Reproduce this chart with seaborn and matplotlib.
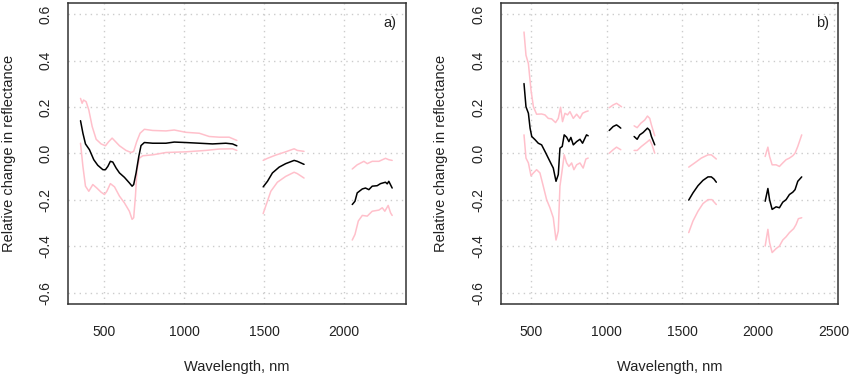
import numpy as np
import pandas as pd
import matplotlib
matplotlib.use("Agg")
import matplotlib.pyplot as plt
import seaborn as sns

#%% Data (wavelength in nm, relative change)

# panel a) - segments between the water absorption bands
a_wl = [
    [350, 365, 381, 406, 433, 458, 490, 506, 521, 537, 552, 573, 594, 625, 656, 673, 683, 698, 715, 729, 750, 802, 885, 937, 1010, 1094, 1177, 1260, 1302, 1329],
    [1494, 1521, 1552, 1594, 1635, 1688, 1708, 1750],
    [2052, 2069, 2083, 2115, 2135, 2156, 2177, 2208, 2229, 2260, 2271, 2281, 2302],
]
a_mean = [
    [0.141, 0.087, 0.041, 0.016, -0.027, -0.051, -0.070, -0.070, -0.056, -0.034, -0.037, -0.063, -0.084, -0.103, -0.127, -0.141, -0.134, -0.084, -0.013, 0.034, 0.047, 0.044, 0.044, 0.049, 0.047, 0.044, 0.041, 0.044, 0.041, 0.033],
    [-0.144, -0.120, -0.084, -0.059, -0.044, -0.030, -0.034, -0.047],
    [-0.220, -0.206, -0.170, -0.153, -0.149, -0.156, -0.141, -0.139, -0.130, -0.124, -0.131, -0.120, -0.149],
]
a_up_wl = [
    [350, 360, 369, 385, 402, 423, 448, 479, 506, 527, 548, 569, 594, 635, 667, 683, 702, 723, 750, 802, 885, 937, 1010, 1094, 1156, 1219, 1281, 1329],
    [1494, 1521, 1573, 1635, 1688, 1708, 1750],
    [2052, 2083, 2125, 2146, 2177, 2219, 2260, 2281, 2302],
]
a_up = [
    [0.237, 0.216, 0.230, 0.223, 0.187, 0.116, 0.061, 0.041, 0.033, 0.051, 0.066, 0.051, 0.033, 0.013, 0.004, 0.009, 0.051, 0.087, 0.104, 0.099, 0.097, 0.101, 0.091, 0.087, 0.073, 0.070, 0.070, 0.056],
    [-0.030, -0.021, -0.007, 0.007, 0.020, 0.013, 0.009],
    [-0.067, -0.049, -0.034, -0.044, -0.034, -0.034, -0.021, -0.027, -0.030],
]
a_lo_wl = [
    [350, 365, 381, 402, 427, 452, 479, 500, 515, 537, 563, 594, 625, 656, 673, 683, 694, 704, 719, 740, 802, 885, 1010, 1135, 1219, 1302, 1329],
    [1494, 1517, 1542, 1583, 1635, 1688, 1708, 1750],
    [2052, 2069, 2090, 2115, 2146, 2177, 2219, 2240, 2256, 2277, 2292, 2302],
]
a_lo = [
    [0.044, -0.056, -0.141, -0.163, -0.134, -0.149, -0.167, -0.177, -0.163, -0.130, -0.144, -0.184, -0.213, -0.249, -0.284, -0.277, -0.184, -0.070, -0.020, -0.010, -0.006, 0.004, 0.007, 0.013, 0.019, 0.020, 0.013],
    [-0.259, -0.213, -0.163, -0.124, -0.099, -0.081, -0.087, -0.106],
    [-0.373, -0.349, -0.291, -0.267, -0.270, -0.249, -0.244, -0.234, -0.249, -0.224, -0.256, -0.267],
]

# panel b)
b_wl = [
    [456, 469, 485, 496, 507, 529, 550, 572, 594, 616, 638, 649, 667, 682, 693, 708, 721, 737, 752, 765, 781, 803, 825, 842, 868, 879],
    [1018, 1044, 1066, 1081, 1094],
    [1182, 1202, 1219, 1241, 1270, 1285, 1296, 1318],
    [1542, 1570, 1603, 1636, 1669, 1691, 1708, 1724],
    [2046, 2064, 2075, 2092, 2118, 2140, 2162, 2184, 2206, 2228, 2243, 2261, 2287],
]
b_mean = [
    [0.301, 0.201, 0.173, 0.109, 0.073, 0.059, 0.044, 0.037, 0.009, -0.020, -0.049, -0.063, -0.120, -0.091, 0.023, 0.030, 0.080, 0.070, 0.051, 0.069, 0.037, 0.051, 0.061, 0.044, 0.080, 0.076],
    [0.099, 0.116, 0.123, 0.116, 0.109],
    [0.073, 0.061, 0.080, 0.090, 0.109, 0.099, 0.073, 0.037],
    [-0.201, -0.170, -0.139, -0.116, -0.101, -0.101, -0.110, -0.124],
    [-0.206, -0.151, -0.199, -0.241, -0.230, -0.234, -0.210, -0.199, -0.177, -0.167, -0.156, -0.120, -0.101],
]
b_up_wl = [
    [456, 469, 485, 502, 518, 539, 572, 594, 616, 638, 664, 682, 697, 710, 726, 743, 759, 781, 803, 825, 842, 864, 879],
    [1018, 1044, 1066, 1099],
    [1182, 1202, 1226, 1252, 1270, 1285, 1296, 1318],
    [1542, 1581, 1625, 1669, 1691, 1724],
    [2046, 2064, 2075, 2092, 2118, 2140, 2162, 2184, 2206, 2228, 2243, 2261, 2287],
]
b_up = [
    [0.523, 0.423, 0.387, 0.273, 0.201, 0.169, 0.170, 0.166, 0.151, 0.149, 0.133, 0.151, 0.199, 0.137, 0.173, 0.166, 0.180, 0.151, 0.169, 0.151, 0.173, 0.180, 0.183],
    [0.197, 0.209, 0.216, 0.201],
    [0.119, 0.111, 0.130, 0.144, 0.161, 0.151, 0.123, 0.076],
    [-0.059, -0.041, -0.020, -0.006, -0.006, -0.024],
    [-0.013, 0.027, -0.013, -0.049, -0.049, -0.056, -0.041, -0.027, -0.020, -0.010, 0.001, 0.030, 0.080],
]
b_lo_wl = [
    [456, 469, 485, 502, 518, 539, 561, 583, 605, 627, 649, 667, 682, 693, 708, 721, 737, 752, 770, 785, 803, 825, 846, 864, 879],
    [1018, 1044, 1066, 1094],
    [1182, 1202, 1230, 1263, 1285, 1300, 1318],
    [1542, 1570, 1603, 1636, 1669, 1695, 1724],
    [2046, 2064, 2075, 2092, 2118, 2140, 2162, 2184, 2206, 2234, 2250, 2265, 2287],
]
b_lo = [
    [0.080, -0.020, -0.041, -0.096, -0.084, -0.070, -0.084, -0.141, -0.199, -0.234, -0.277, -0.373, -0.334, -0.141, -0.070, -0.006, -0.041, -0.056, -0.041, -0.070, -0.049, -0.041, -0.063, -0.024, -0.020],
    [0.001, 0.016, 0.027, 0.016],
    [0.013, 0.013, 0.030, 0.047, 0.059, 0.037, 0.001],
    [-0.341, -0.291, -0.249, -0.216, -0.199, -0.199, -0.220],
    [-0.399, -0.327, -0.384, -0.427, -0.410, -0.399, -0.373, -0.359, -0.341, -0.324, -0.306, -0.281, -0.277],
]

#%% Helpers

def to_frame(wls, vals):
    rows = []
    for k, (w, v) in enumerate(zip(wls, vals)):
        for wi, vi in zip(w, v):
            rows.append((k, wi, vi))
    return pd.DataFrame(rows, columns=["seg", "wl", "val"])

def draw_panel(ax, series, xlim, xticks, tag):
    for wls, vals, col in series:
        df = to_frame(wls, vals)
        sns.lineplot(data=df, x="wl", y="val", units="seg", estimator=None,
                     sort=False, color=col, lw=1.1, ax=ax)
    ax.set_xlim(xlim)
    ax.set_ylim(-0.648, 0.648)
    ax.set_xticks(xticks)
    ax.set_yticks([-0.6, -0.4, -0.2, 0.0, 0.2, 0.4, 0.6])
    ax.set_yticklabels(["-0.6", "-0.4", "-0.2", "0.0", "0.2", "0.4", "0.6"],
                       rotation=90, va="center")
    ax.grid(True, color="#cccccc", ls=(0, (1, 3)), lw=1)
    ax.tick_params(axis="both", direction="out", length=6, width=0.9,
                   color="#333333", labelsize=10, labelcolor="#222222")
    ax.tick_params(axis="x", pad=9)
    ax.tick_params(axis="y", pad=5)
    for s in ax.spines.values():
        s.set_visible(True)
        s.set_color("#333333")
        s.set_linewidth(1.1)
    ax.set_xlabel("Wavelength, nm", fontsize=10.5, color="#222222")
    ax.set_ylabel("Relative change in reflectance", fontsize=10.5, color="#222222")
    ax.xaxis.set_label_coords(0.5, -0.185)
    ax.yaxis.set_label_coords(-0.155, 0.5)
    ax.text(0.953, 0.935, tag, transform=ax.transAxes, ha="center", va="center",
            fontsize=10.5, color="#222222")

#%% Plot

sns.set_style("white")
plt.rcParams["font.family"] = ["Liberation Sans", "DejaVu Sans"]

fig = plt.figure(figsize=(8.5, 3.77), dpi=100)
ax1 = fig.add_axes([0.080, 0.194, 0.3976, 0.798])
ax2 = fig.add_axes([0.589, 0.194, 0.3972, 0.798])

draw_panel(ax1, [(a_up_wl, a_up, "pink"), (a_lo_wl, a_lo, "pink"), (a_wl, a_mean, "black")],
           (271.6, 2388.4), [500, 1000, 1500, 2000], "a)")
draw_panel(ax2, [(b_up_wl, b_up, "pink"), (b_lo_wl, b_lo, "pink"), (b_wl, b_mean, "black")],
           (302, 2528), [500, 1000, 1500, 2000, 2500], "b)")

fig.savefig("out.png", dpi=100)
